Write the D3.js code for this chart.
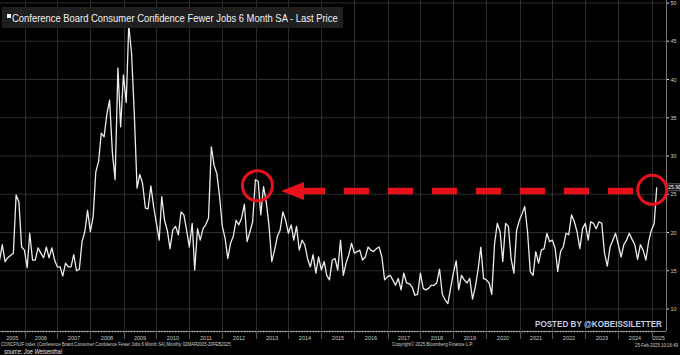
<!DOCTYPE html>
<html><head><meta charset="utf-8">
<script src="https://cdn.jsdelivr.net/npm/d3@7"></script>
<style>html,body{margin:0;padding:0;background:#000;}svg{display:block;}</style>
</head><body>
<svg id="c" width="680" height="355"></svg>
<script>
// Monthly values, Mar 2005 .. Feb 2025
const startYear = 2005, startMonth = 2; // March (0-based)
const values = [
  16.4,18.4,16.2,16.7,17.0,17.3,24.9,24.0,18.1,17.7,
  15.4,19.9,16.4,16.4,18.0,17.3,16.7,18.1,16.7,18.0,16.4,15.5,
  15.5,14.3,16.0,15.5,15.5,17.1,15.0,15.2,18.8,20.1,22.9,20.1,
  22.1,27.9,29.3,33.0,32.5,35.4,37.3,30.4,26.9,41.5,33.8,40.6,
  37.0,47.1,43.4,35.6,25.8,27.6,26.4,23.2,23.1,26.1,23.4,21.2,
  19.0,24.7,21.6,20.3,17.9,20.3,20.8,19.7,22.7,22.3,20.3,18.1,
  21.2,15.1,20.5,19.0,20.5,21.0,21.9,31.2,28.8,27.7,24.7,20.8,
  19.2,16.6,18.6,19.5,21.6,21.0,21.9,23.7,18.8,20.1,21.4,26.9,
  26.7,22.3,26.0,24.0,20.8,16.2,17.7,19.5,20.3,22.7,21.6,19.9,
  21.0,19.0,20.8,17.7,19.0,18.4,16.6,15.5,17.1,14.7,16.8,15.1,
  16.2,14.4,13.8,16.4,16.6,15.1,19.0,14.4,16.0,17.1,18.6,17.3,
  17.5,17.7,16.4,16.8,18.1,17.7,17.5,17.9,18.1,16.8,13.8,14.2,
  14.4,13.8,13.1,14.0,12.5,14.7,13.4,13.3,12.9,11.8,11.9,14.7,
  12.7,12.5,12.7,13.1,13.1,13.4,15.2,11.9,11.2,10.7,12.7,14.7,
  16.3,12.5,14.4,13.8,13.4,14.0,11.3,12.9,15.1,18.1,14.0,13.8,
  13.4,11.9,18.5,21.2,20.1,16.2,21.2,20.8,16.6,14.7,20.3,21.6,
  22.5,23.4,20.1,14.9,14.4,17.5,16.0,17.7,17.9,19.9,18.8,19.0,
  17.9,14.9,17.5,18.1,19.9,19.7,22.3,21.4,20.1,17.9,20.5,21.2,
  19.0,21.4,21.2,20.5,21.4,21.2,17.3,15.6,18.1,19.0,19.9,18.4,
  16.8,18.4,19.0,19.9,19.1,18.4,16.5,18.4,17.7,16.4,18.8,20.3,
  21.2,25.9
];
const yTicks = [10,15,20,25,30,35,40,45,50];
const yearLabels = ["2005","2006","2007","2008","2009","2010","2011","2012","2013","2014","2015","2016","2017","2018","2019","2020","2021","2022","2023","2024","2025"];
const lastPriceLabel = "25.90";
const titleText = "Conference Board Consumer Confidence Fewer Jobs 6 Month SA - Last Price";
const footerText = "CONCFNJF Index (Conference Board Consumer Confidence Fewer Jobs 6 Month SA)  Monthly 02MAR2005-20FEB2025";
const copyrightText = "Copyright\u00A9 2025 Bloomberg Finance L.P.";
const stampText = "25-Feb-2025 10:16:49";
const sourceText = "source: Joe Weisenthal";
const postedText = "POSTED BY @KOBEISSILETTER";
const highlightIdx = [93, 239];

const data = values.map((v,i)=>({date:new Date(startYear, startMonth+i+1, 0), v}));

const svg = d3.select("#c");
const plotRight = 666, plotBottom = 331;
const x = d3.scaleTime().domain([new Date(2006,0,1), new Date(2025,0,1)]).range([24.5, 651.5]);
const y = d3.scaleLinear().domain([10,50]).range([309,3]);

svg.append("rect").attr("width",680).attr("height",355).attr("fill","#000");

svg.append("clipPath").attr("id","pc").append("rect").attr("x",0).attr("y",0).attr("width",plotRight).attr("height",plotBottom);

// grid
const g = svg.append("g");
g.selectAll("line.h").data(yTicks).join("line")
  .attr("x1",0).attr("x2",plotRight).attr("y1",d=>y(d)).attr("y2",d=>y(d))
  .attr("stroke","#2e2e2e").attr("stroke-width",1);
const yearStarts = d3.range(2006,2026).map(yr=>new Date(yr,0,1));
g.selectAll("line.v").data(yearStarts).join("line")
  .attr("x1",d=>Math.round(x(d))+0.5).attr("x2",d=>Math.round(x(d))+0.5).attr("y1",0).attr("y2",plotBottom)
  .attr("stroke","#2e2e2e").attr("stroke-width",1);

// series line
svg.append("path").datum(data)
  .attr("clip-path","url(#pc)")
  .attr("fill","none").attr("stroke","#ececec").attr("stroke-width",1.3).attr("stroke-linejoin","round")
  .attr("d", d3.line().x(d=>x(d.date)).y(d=>y(d.v)));

// right axis
const ft = "Liberation Sans, Arial, sans-serif";
const ra = svg.append("g").attr("transform",`translate(${plotRight},0)`);
ra.append("line").attr("x1",0.5).attr("x2",0.5).attr("y1",0).attr("y2",plotBottom).attr("stroke","#777");
ra.selectAll("line.t").data(yTicks).join("line")
  .attr("x1",1).attr("x2",3).attr("y1",d=>y(d)).attr("y2",d=>y(d)).attr("stroke","#ddd");
ra.selectAll("text").data(yTicks).join("text")
  .attr("x",4.5).attr("y",d=>y(d)+2).attr("fill","#cfcfcf")
  .attr("font-family",ft).attr("font-size",5.5).text(d=>d);

// bottom axis
const ba = svg.append("g");
ba.append("line").attr("x1",0).attr("x2",plotRight).attr("y1",plotBottom+0.5).attr("y2",plotBottom+0.5).attr("stroke","#888");
const months = d3.timeMonth.range(new Date(2005,2,1), new Date(2025,2,1));
ba.selectAll("line.m").data(months).join("line")
  .attr("x1",d=>x(d)).attr("x2",d=>x(d)).attr("y1",plotBottom-0.5).attr("y2",plotBottom+1.5)
  .attr("stroke","#bbb").attr("stroke-width",0.6);
ba.selectAll("line.y").data(yearStarts).join("line")
  .attr("x1",d=>Math.round(x(d))+0.5).attr("x2",d=>Math.round(x(d))+0.5).attr("y1",plotBottom).attr("y2",plotBottom+8)
  .attr("stroke","#555");
ba.selectAll("text").data(yearLabels).join("text")
  .attr("x",d=>{const a=Math.max(0,x(new Date(+d,0,1))), b=Math.min(plotRight,x(new Date(+d+1,0,1))); return (a+b)/2;})
  .attr("y",340).attr("text-anchor","middle").attr("fill","#c8c8c8")
  .attr("font-family",ft).attr("font-size",5.5).text(d=>d);

// helper: place text scaled horizontally to a target width
function fitText(sel, x0, y0, width){
  const w = sel.node().getComputedTextLength();
  sel.attr("x",0).attr("y",0).attr("transform",`translate(${x0},${y0}) scale(${width/w},1)`);
  return sel;
}

// footer texts
fitText(svg.append("text").attr("fill","#cfcfcf").attr("font-family",ft).attr("font-size",4.6).text(footerText), 1, 345.5, 230);
fitText(svg.append("text").attr("fill","#cfcfcf").attr("font-family",ft).attr("font-size",4.6).text(copyrightText), 392, 345.5, 81);
fitText(svg.append("text").attr("fill","#cfcfcf").attr("font-family",ft).attr("font-size",4.6).text(stampText), 635, 347, 43);
fitText(svg.append("text").attr("fill","#e8e8e8").attr("font-family",ft).attr("font-size",7.5).attr("font-style","italic").text(sourceText), 4, 353.5, 58);

// title box
svg.append("rect").attr("x",2).attr("y",7).attr("width",341).attr("height",21).attr("fill","#1f1f1f");
svg.append("rect").attr("x",7).attr("y",14).attr("width",4).attr("height",4).attr("fill","#fff");
fitText(svg.append("text").attr("fill","#f2f2f2").attr("font-family",ft).attr("font-size",11).text(titleText), 12, 22, 326);

// last price label
const last = data[data.length-1];
svg.append("rect").attr("x",667).attr("y",y(last.v)-3.5).attr("width",13).attr("height",7)
  .attr("fill","#111").attr("stroke","#aaa").attr("stroke-width",0.5);
svg.append("text").attr("x",668).attr("y",y(last.v)+2).attr("fill","#fff").attr("font-family",ft).attr("font-size",5.2).text(lastPriceLabel);

// annotations: circles and dashed arrow
const red = "#e8111b";
const c1 = data[highlightIdx[0]], c2 = data[highlightIdx[1]];
svg.append("circle").attr("cx",x(c1.date)+2).attr("cy",y(c1.v)+6).attr("r",15)
  .attr("fill","none").attr("stroke",red).attr("stroke-width",3);
svg.append("circle").attr("cx",x(c2.date)-4.5).attr("cy",y(c2.v)+2.5).attr("r",14.5)
  .attr("fill","none").attr("stroke",red).attr("stroke-width",3);
const ay = 191;
svg.append("line").attr("x1",633).attr("x2",300).attr("y1",ay).attr("y2",ay)
  .attr("stroke",red).attr("stroke-width",6.5).attr("stroke-dasharray","25 19");
svg.append("path").attr("d",`M281,${ay} L304,${ay-9} L304,${ay+9} Z`).attr("fill",red);

// posted by
fitText(svg.append("text").attr("fill","#c4cce4").attr("font-family",ft)
  .attr("font-size",9.6).attr("font-weight","bold").text(postedText), 535, 327, 127);
</script>
</body></html>
